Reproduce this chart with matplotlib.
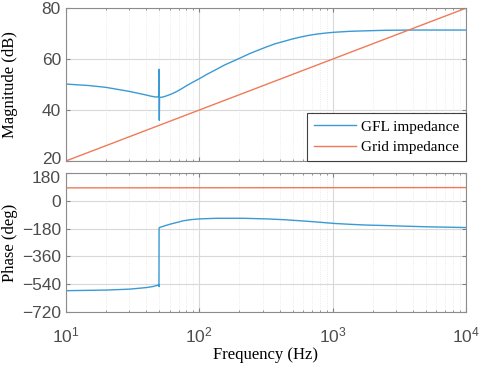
import matplotlib as mpl
mpl.use("Agg")
import matplotlib.pyplot as plt
import matplotlib.transforms as mtransforms
import numpy as np

# GFL impedance magnitude (dB)
f_mag = [10, 15, 20, 30, 40, 43, 46, 48, 49.6, 49.8, 50.0, 50.2, 50.4, 52, 55, 57, 62, 68,
         74, 80, 90, 101, 115, 135, 155, 180, 210, 240, 280, 320, 370, 427, 500, 569, 660,
         759, 880, 1012, 1350, 1800, 2500, 4000, 10000]
mag_gfl = [50.2, 49.6, 48.9, 47.3, 45.9, 45.5, 45.2, 45.1, 45.3, 56.0, 45.5, 36.0, 45.0, 45.0,
           45.3, 45.6, 46.3, 47.3, 48.4, 49.5, 51.0, 52.4, 54.1, 56.0, 57.7, 59.2, 60.8, 62.2,
           63.6, 64.8, 66.0, 66.9, 67.9, 68.6, 69.3, 69.8, 70.2, 70.5, 70.9, 71.1, 71.3, 71.4, 71.4]

# grid impedance magnitude (dB)
f_grid = [10, 10000]
mag_grid = [20, 80]

# phases (deg)
f_ph = [10, 20, 30, 40, 45, 49, 49.8, 49.9, 50.0, 50.3, 55, 60, 68, 76, 88, 101, 135, 214,
        320, 430, 569, 760, 1012, 1350, 1800, 2500, 3200, 5000, 10000]
ph_gfl = [-582, -578, -572, -562, -555, -546, -543, -555, -178, -173, -162, -152, -140,
          -129, -121, -117, -113, -113, -117, -122, -129, -137, -146, -152, -157, -160, -163,
          -168, -173]
ph_grid = [84, 86]

blue = '#3a9ad5'
orange = '#f07a58'
tick_grey = '#4d4d4d'
SERIF = 'Liberation Serif'

fig = plt.figure(figsize=(4.84, 3.69), dpi=100)
ax1 = fig.add_axes([0.136, 0.5637, 0.827, 0.4143])
ax2 = fig.add_axes([0.136, 0.1545, 0.827, 0.3765])

for ax in (ax1, ax2):
  ax.set_xscale('log')
  ax.set_xlim(10, 1e4)
  ax.grid(which='major', color='#d9d9d9', lw=0.8, ls='-')
  ax.grid(which='minor', color='#e6e6e6', lw=0.6, ls=':')
  ax.set_axisbelow(True)
  ax.tick_params(which='both', direction='in', top=True, right=True,
                 colors='#808080', labelcolor=tick_grey, labelsize=12.5)
  ax.tick_params(which='major', length=3)
  ax.tick_params(which='minor', length=1.5)
  for s in ax.spines.values():
    s.set_color('#8c8c8c')
    s.set_linewidth(0.8)

ax1.plot(f_mag, mag_gfl, color=blue, lw=1.0, label='GFL impedance')
ax1.plot(f_grid, mag_grid, color=orange, lw=1.0, label='Grid impedance')
ax1.set_ylim(20, 80)
ax1.set_yticks([20, 40, 60, 80])
ax1.tick_params(axis='x', which='both', labelbottom=False)
ax1.set_ylabel('Magnitude (dB)', family=SERIF, fontsize=12)
ax1.yaxis.set_label_coords(-0.12, 0.5)
leg = ax1.legend(loc='lower right', prop={'family': SERIF, 'size': 11},
                 fancybox=False, framealpha=1, edgecolor='#404040',
                 borderaxespad=0, handlelength=2.8, handletextpad=0.3,
                 borderpad=0.45, labelspacing=0.45)
leg.get_frame().set_linewidth(0.8)

ax2.plot(f_ph, ph_gfl, color=blue, lw=1.0)
ax2.plot(f_grid, ph_grid, color=orange, lw=1.0)
ax2.set_ylim(-720, 180)
ax2.set_yticks([-720, -540, -360, -180, 0, 180])
ax2.set_ylabel('Phase (deg)', family=SERIF, fontsize=12)
ax2.yaxis.set_label_coords(-0.12, 0.5)
ax2.set_xlabel('Frequency (Hz)', family=SERIF, fontsize=12, labelpad=1)
ax2.tick_params(axis='x', pad=10)

for ax in (ax1, ax2):
  for lab in ax.get_xticklabels() + ax.get_yticklabels():
    lab.set_family('Liberation Sans')

# keep the 20 / 180 labels from touching: shift each by a couple of pixels
up = mtransforms.ScaledTranslation(0, 2.5 / 72, fig.dpi_scale_trans)
down = mtransforms.ScaledTranslation(0, -2.5 / 72, fig.dpi_scale_trans)
for tick in ax1.yaxis.get_major_ticks()[:1]:
  tick.label1.set_transform(tick.label1.get_transform() + up)
for tick in ax2.yaxis.get_major_ticks()[-1:]:
  tick.label1.set_transform(tick.label1.get_transform() + down)

fig.savefig('out.png', dpi=100)
